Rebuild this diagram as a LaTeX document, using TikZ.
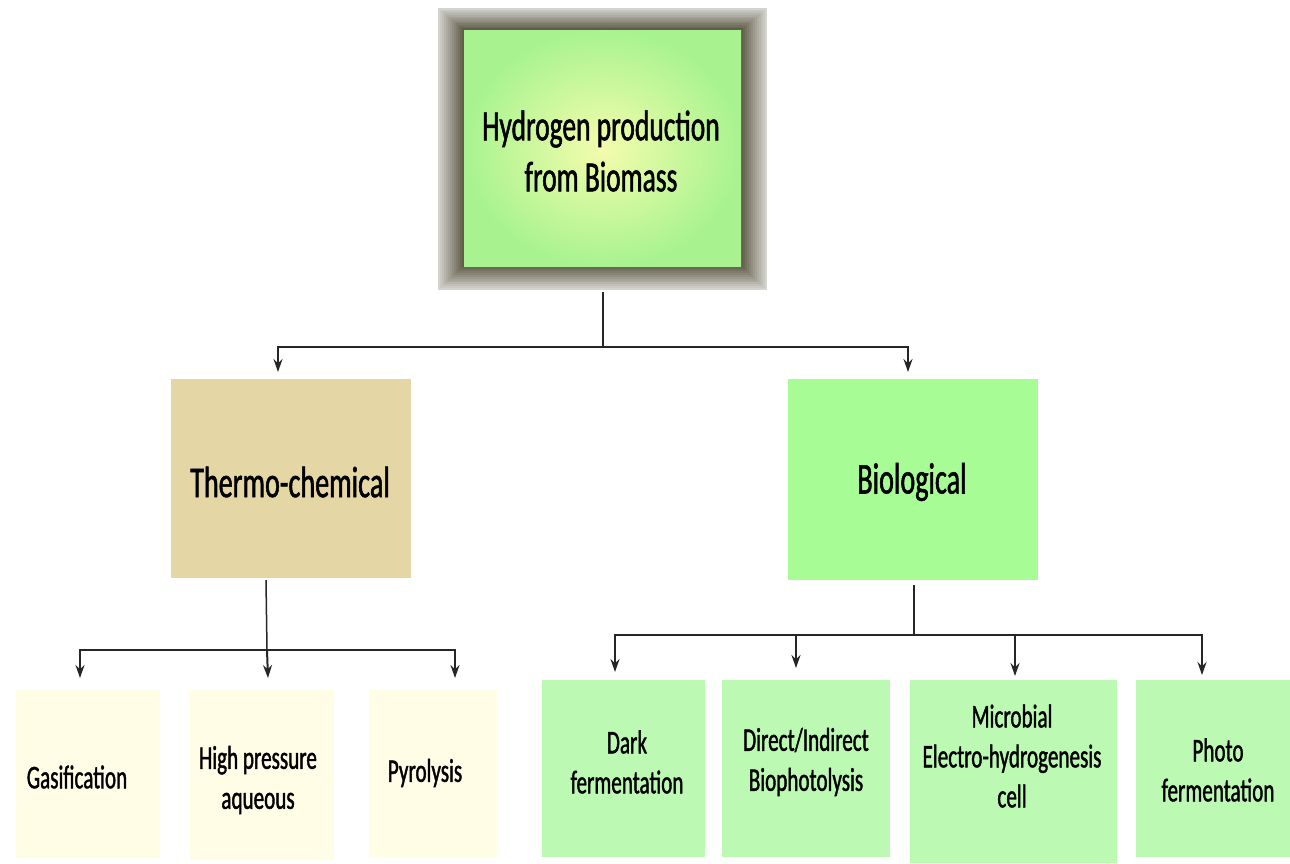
\documentclass[tikz,border=0pt]{standalone}
\usepackage{fontspec}
\setmainfont{Carlito}[FakeStretch=0.64,FakeBold=1.2]
\usetikzlibrary{arrows.meta,calc}
\definecolor{tan}{HTML}{E5D6A5}
\definecolor{biogreen}{HTML}{A7FC95}
\definecolor{leafgreen}{HTML}{BCFAB3}
\definecolor{cream}{HTML}{FFFDE6}
\definecolor{frameout}{HTML}{D4D4CE}
\definecolor{framein}{HTML}{615D4A}
\definecolor{centreyel}{HTML}{F4FCAC}
\definecolor{edgegreen}{HTML}{A8F390}
\tikzset{
  box/.style={draw=none, inner sep=0pt, anchor=north west},
  lbl/.style={align=center, inner sep=0pt, text=black},
  big/.style={lbl, font=\fontsize{43}{51}\selectfont},
  mid/.style={lbl, font=\fontsize{44}{52}\selectfont},
  small/.style={lbl, font=\fontsize{33}{40}\selectfont},
  conn/.style={line width=2pt, black!85},
  arr/.style={conn, -{Stealth[length=13pt,width=9pt]}},
}
\begin{document}
\begin{tikzpicture}[x=1pt,y=-1pt]
\useasboundingbox (0,0) rectangle (1290,863);
\fill[white] (0,0) rectangle (1290,863);
% top box frame with gradient
\foreach \i in {0,...,12}{
  \pgfmathsetmacro{\p}{100*\i/12}
  \fill[framein!\p!frameout] (438+2*\i,8+1.7*\i) rectangle (767-2*\i,290-1.9*\i);
}
\shade[inner color=centreyel, outer color=edgegreen] (464,30) rectangle (741,266);
\node[box, minimum width=277pt, minimum height=236pt] (top) at (464,30) {};
\node[big] (toptxt) at (601,151) {Hydrogen production\\from Biomass};
% second level
\node[box, fill=tan, minimum width=240pt, minimum height=199pt] (thermo) at (171,379) {};
\node[mid] (thermotxt) at (290,482) {Thermo-chemical};
\node[box, fill=biogreen, minimum width=250pt, minimum height=201pt] (bio) at (788,379) {};
\node[mid] (biotxt) at (912,482) {Biological};
% thermo children
\node[box, fill=cream, minimum width=144pt, minimum height=168pt] (gas) at (16,690) {};
\node[small] (gastxt) at (77,777) {Gasification};
\node[box, fill=cream, minimum width=144pt, minimum height=170pt] (hpa) at (190,690) {};
\node[small] (hpatxt) at (258,780) {High pressure\\aqueous};
\node[box, fill=cream, minimum width=128pt, minimum height=167pt] (pyr) at (369,690) {};
\node[small] (pyrtxt) at (425,773) {Pyrolysis};
% bio children
\node[box, fill=leafgreen, minimum width=163pt, minimum height=177pt] (dark) at (542,680) {};
\node[small] (darktxt) at (627,762) {Dark\\fermentation};
\node[box, fill=leafgreen, minimum width=168pt, minimum height=177pt] (dir) at (722,680) {};
\node[small] (dirtxt) at (806,762) {Direct/Indirect\\Biophotolysis};
\node[box, fill=leafgreen, minimum width=207pt, minimum height=183pt] (mic) at (910,680) {};
\node[small] (mictxt) at (1012,756) {Microbial\\Electro-hydrogenesis\\cell};
\node[box, fill=leafgreen, minimum width=154pt, minimum height=177pt] (pho) at (1136,680) {};
\node[small] (photxt) at (1218,770) {Photo\\fermentation};
% connectors level 1
\coordinate (j1) at (603,347);
\coordinate (a1) at (278,372);
\coordinate (a2) at (908,372);
\draw[conn, line width=1.5pt] (603,292) -- (j1);
\draw[arr] (j1) -| (a1);
\draw[arr] (j1) -| (a2);
% thermo connectors
\coordinate (j2) at (267,650);
\coordinate (b1) at (80,678);
\coordinate (b2) at (268,678);
\coordinate (b3) at (455,678);
\draw[conn, line width=1.5pt] (266,580) -- (j2);
\draw[arr] (j2) -| (b1);
\draw[arr] (j2) -- (b2);
\draw[arr] (j2) -| (b3);
% bio connectors
\coordinate (j3) at (914,635);
\coordinate (c1) at (615,672);
\coordinate (c2) at (796,668);
\coordinate (c3) at (1015,676);
\coordinate (c4) at (1202,675);
\draw[conn, line width=1.5pt] (914,585) -- (j3);
\draw[arr] (j3) -| (c1);
\draw[arr] (j3) -| (c2);
\draw[arr] (j3) -| (c3);
\draw[arr] (j3) -| (c4);
\end{tikzpicture}
\end{document}
